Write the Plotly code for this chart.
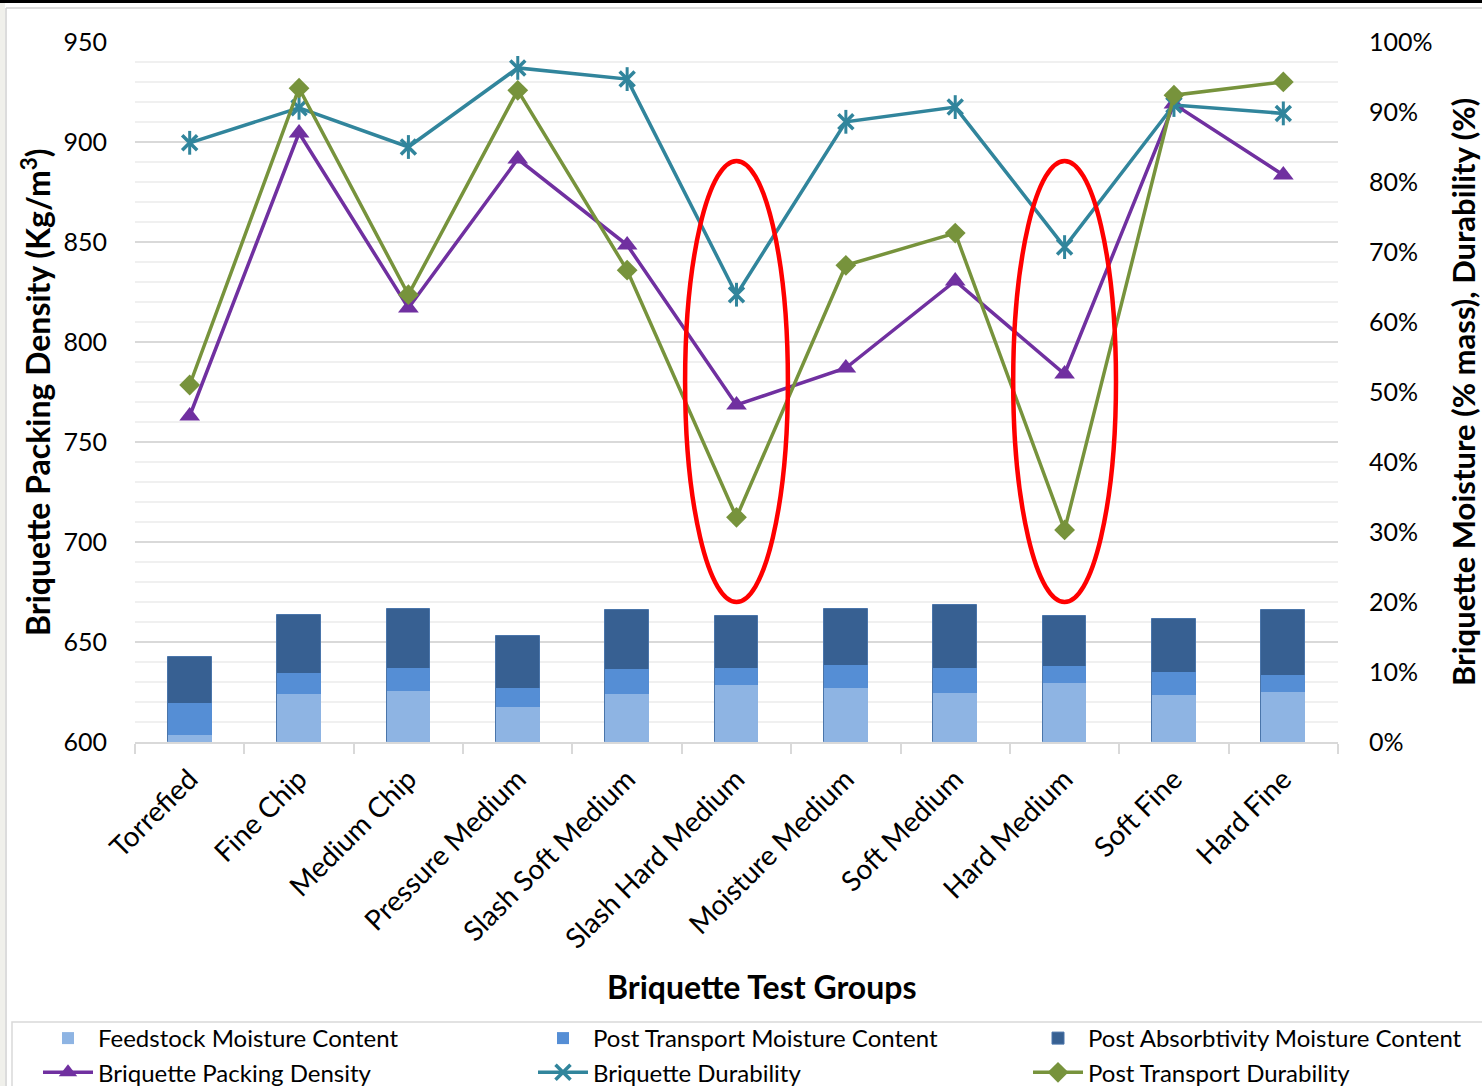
import plotly.graph_objects as go

# Test groups along the x axis
groups = [
    "Torrefied", "Fine Chip", "Medium Chip", "Pressure Medium",
    "Slash Soft Medium", "Slash Hard Medium", "Moisture Medium",
    "Soft Medium", "Hard Medium", "Soft Fine", "Hard Fine",
]

# Moisture content (% mass), right axis
feedstock_moisture = [1.0, 6.9, 7.3, 5.0, 6.9, 8.1, 7.7, 7.0, 8.4, 6.7, 7.1]
post_transport_moisture = [5.6, 9.9, 10.6, 7.7, 10.4, 10.6, 11.0, 10.6, 10.9, 10.0, 9.6]
post_absorbtivity_moisture = [12.1, 18.1, 19.0, 15.1, 18.9, 18.0, 19.0, 19.6, 18.0, 17.6, 18.9]

# Packing density (kg/m3), left axis
packing_density = [763, 904.5, 817, 891.5, 848.5, 768.5, 787, 830.5, 784, 919, 883.5]

# Durability (%), right axis
durability = [85.6, 90.6, 85.0, 96.3, 94.7, 63.9, 88.6, 90.7, 70.7, 91.0, 89.8]
post_transport_durability = [51.0, 93.4, 63.9, 93.1, 67.4, 32.1, 68.1, 72.7, 30.3, 92.4, 94.3]

# Groups highlighted with a red ellipse
highlighted = ["Slash Hard Medium", "Hard Medium"]

FONT = "Lato, 'Open Sans', sans-serif"
W, H = 1482, 1086
L, R, T, B = 135, 1338, 42, 742  # plot area in pixels

fig = go.Figure()

# Overlapped moisture columns: tallest drawn first
fig.add_trace(go.Bar(
    x=groups, y=post_absorbtivity_moisture, name="Post Absorbtivity Moisture Content",
    marker=dict(color="#376092", line=dict(color="#4A75AA", width=1)),
    width=0.4, yaxis="y2", legend="legend3", legendrank=1,
))
fig.add_trace(go.Bar(
    x=groups, y=post_transport_moisture, name="Post Transport Moisture Content",
    marker=dict(color="#558ED5", line=dict(width=0)),
    width=0.4, yaxis="y2", legend="legend2", legendrank=1,
))
fig.add_trace(go.Bar(
    x=groups, y=feedstock_moisture, name="Feedstock Moisture Content",
    marker=dict(color="#8EB4E3", line=dict(width=0)),
    width=0.4, yaxis="y2", legend="legend", legendrank=1,
))

fig.add_trace(go.Scatter(
    x=groups, y=packing_density, name="Briquette Packing Density",
    mode="lines+markers", line=dict(color="#7030A0", width=3.5),
    marker=dict(symbol="triangle-up", size=18, color="#7030A0"),
    yaxis="y", legend="legend", legendrank=2,
))
fig.add_trace(go.Scatter(
    x=groups, y=durability, name="Briquette Durability",
    mode="lines+markers", line=dict(color="#31859C", width=3.5),
    marker=dict(symbol="x-thin-open", size=15, color="#31859C",
                line=dict(color="#31859C", width=3.5)),
    yaxis="y2", legend="legend2", legendrank=2,
))
# vertical stroke completing the star marker
fig.add_trace(go.Scatter(
    x=groups, y=durability, mode="markers", showlegend=False, hoverinfo="skip",
    marker=dict(symbol="line-ns-open", size=17, color="#31859C",
                line=dict(color="#31859C", width=3)),
    yaxis="y2",
))
fig.add_trace(go.Scatter(
    x=groups, y=post_transport_durability, name="Post Transport Durability",
    mode="lines+markers", line=dict(color="#77933C", width=3.5),
    marker=dict(symbol="diamond", size=16, color="#77933C"),
    yaxis="y2", legend="legend3", legendrank=2,
))

# Red ellipses around the highlighted groups
for g in highlighted:
    i = groups.index(g)
    fig.add_shape(type="circle", xref="x", yref="y2",
                  x0=i - 0.47, x1=i + 0.47, y0=20, y1=83,
                  line=dict(color="#FF0000", width=4.5), layer="above")

def px_x(px):
    return (px - L) / (R - L)

def px_y(py):
    return (B - py) / (B - T)

# Frame decorations around the chart area
fig.add_shape(type="rect", xref="paper", yref="paper",
              x0=px_x(0), x1=px_x(W), y0=px_y(3), y1=px_y(-2),
              fillcolor="#000000", line=dict(width=0), layer="above")
fig.add_shape(type="rect", xref="paper", yref="paper",
              x0=px_x(-2), x1=px_x(5), y0=px_y(H + 2), y1=px_y(3),
              fillcolor="#F0F0EB", line=dict(width=0), layer="below")
fig.add_shape(type="line", xref="paper", yref="paper",
              x0=px_x(6), x1=px_x(6), y0=px_y(H), y1=px_y(8),
              line=dict(color="#D0D0D0", width=1.5), layer="below")
fig.add_shape(type="line", xref="paper", yref="paper",
              x0=px_x(6), x1=px_x(W), y0=px_y(8), y1=px_y(8),
              line=dict(color="#D0D0D0", width=1.5), layer="below")
# Box enclosing the three legend columns
fig.add_shape(type="rect", xref="paper", yref="paper",
              x0=px_x(12), x1=px_x(W + 10), y0=px_y(H + 10), y1=px_y(1022),
              line=dict(color="#D9D9D9", width=1.5), fillcolor="rgba(0,0,0,0)",
              layer="below")

# Axis titles
TITLE_FONT = dict(family=FONT, size=32, color="#000000", weight="bold")
fig.add_annotation(text="Briquette Packing Density (Kg/m<sup>3</sup>)",
                   xref="paper", yref="paper", x=px_x(36), y=px_y(392),
                   textangle=-90, showarrow=False, xanchor="center", yanchor="middle",
                   font=TITLE_FONT)
fig.add_annotation(text="Briquette Moisture (% mass), Durability (%)",
                   xref="paper", yref="paper", x=px_x(1463), y=px_y(392),
                   textangle=-90, showarrow=False, xanchor="center", yanchor="middle",
                   font=dict(TITLE_FONT, size=31))
fig.add_annotation(text="Briquette Test Groups",
                   xref="paper", yref="paper", x=px_x(762), y=px_y(986),
                   showarrow=False, xanchor="center", yanchor="middle",
                   font=TITLE_FONT)

# Three legend columns, each holding a bar entry above a line entry
legend_common = dict(
    orientation="v", xref="container", yref="container",
    yanchor="top", xanchor="left", y=1 - 1016 / H,
    traceorder="normal", font=dict(family=FONT, size=24, color="#000000"),
    bgcolor="rgba(0,0,0,0)", borderwidth=0, itemwidth=50, tracegroupgap=0,
)

fig.update_layout(
    width=W, height=H,
    margin=dict(l=L, r=W - R, t=T, b=H - B, autoexpand=False),
    paper_bgcolor="#FFFFFF", plot_bgcolor="#FFFFFF",
    barmode="overlay", bargap=0,
    font=dict(family=FONT, size=25, color="#000000"),
    showlegend=True,
    legend=dict(legend_common, x=38 / W),
    legend2=dict(legend_common, x=533 / W),
    legend3=dict(legend_common, x=1028 / W),
    xaxis=dict(
        type="category", categoryorder="array", categoryarray=groups,
        range=[-0.5, len(groups) - 0.5],
        tickangle=-45, tickson="boundaries", ticks="outside", ticklen=10,
        tickcolor="#D9D9D9", tickwidth=1.5, showline=True, linecolor="#D9D9D9",
        linewidth=1.5, showgrid=False, ticklabelstandoff=8,
        tickfont=dict(family=FONT, size=28),
    ),
    yaxis=dict(
        range=[600, 950], dtick=50, tick0=600, showgrid=True,
        gridcolor="#D9D9D9", gridwidth=1.5, zeroline=False, showline=False,
        minor=dict(dtick=10, showgrid=True, gridcolor="#F0F0F0", gridwidth=1.5),
        ticks="", ticklabelstandoff=27, tickfont=dict(family=FONT, size=25),
    ),
    yaxis2=dict(
        overlaying="y", side="right", range=[0, 100], dtick=10, tick0=0,
        ticksuffix="%", showgrid=False, zeroline=False, showline=False,
        ticks="", ticklabelstandoff=30, tickfont=dict(family=FONT, size=25),
    ),
)

fig.write_html("out.html")
